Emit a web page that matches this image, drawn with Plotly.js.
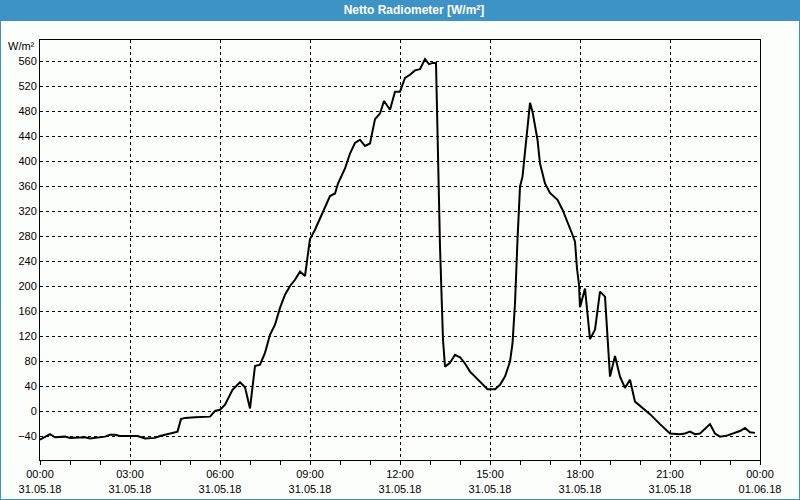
<!DOCTYPE html>
<html>
<head>
<meta charset="utf-8">
<script src="https://cdn.plot.ly/plotly-3.0.1.min.js"></script>
<style>
html,body{margin:0;padding:0;background:#fcfefc;}
#chart{width:800px;height:500px;}
</style>
</head>
<body>
<div id="chart"></div>
<script>
const chartTitle = "Netto Radiometer [W/m²]";
const unitLabel = "W/m²";
const day = "2018-05-31";
const times = [
"00:00","00:10","00:20","00:30","00:40","00:50","01:00","01:20","01:30","01:40",
"01:50","02:00","02:10","02:20","02:30","02:40","02:50","03:00","03:15","03:30",
"03:40","03:50","04:00","04:10","04:25","04:35","04:42","04:50","05:10","05:20",
"05:40","05:50","06:00","06:10","06:25","06:40","06:50","07:00","07:10","07:20",
"07:30","07:40","07:50","08:00","08:10","08:20","08:30","08:40","08:50","08:56",
"09:00","09:10","09:20","09:30","09:40","09:50","09:56","10:10","10:20","10:30",
"10:40","10:50","11:00","11:10","11:20","11:28","11:40","11:50","12:00","12:10",
"12:20","12:30","12:40","12:50","12:58","13:06","13:12","13:20","13:26","13:30",
"13:40","13:50","14:00","14:10","14:20","14:30","14:40","14:50","14:55","15:10",
"15:20","15:30","15:40","15:45","15:50","15:55","16:00","16:05","16:12","16:20",
"16:25","16:35","16:40","16:50","17:00","17:15","17:25","17:35","17:45","17:50",
"17:54","17:58","18:00","18:10","18:20","18:30","18:40","18:50","19:00","19:10",
"19:20","19:30","19:40","19:50","20:00","20:20","20:40","21:00","21:20","21:30",
"21:40","21:50","22:00","22:20","22:30","22:40","22:55","23:05","23:20","23:30",
"23:40","23:50"
];
const values = [
-46,-41,-37,-42,-42,-41,-43,-42,-42,-44,
-43,-41,-41,-38,-38,-40,-40,-39,-40,-44,
-43,-43,-40,-38,-36,-33,-13,-11,-10,-10,
-9,0,2,10,34,46,38,4,72,74,
93,122,138,165,186,200,210,223,216,252,
275,290,308,324,344,348,364,388,412,429,
434,424,428,467,476,496,482,511,511,533,
538,545,547,563,555,557,557,263,114,71,
77,90,86,76,63,55,47,39,35,35,
42,55,79,108,172,274,359,375,434,493,
479,434,396,364,349,338,322,303,282,271,
228,202,166,196,115,130,191,183,55,88,
55,37,50,15,8,-5,-21,-36,-37,-36,
-33,-37,-36,-21,-36,-41,-39,-36,-32,-27,
-34,-35
];
const yTickVals = [-40,0,40,80,120,160,200,240,280,320,360,400,440,480,520,560];

const xs = times.map(t => day + " " + t);
const font = "Liberation Sans, Arial, sans-serif";

// pixel -> paper helpers for decorations outside the plot
const L = 40, R = 40, T = 40, B = 40, W = 800, H = 500;
const pw = W - L - R, ph = H - T - B;
const px = x => (x - L) / pw;
const py = y => (H - B - y) / ph;

const trace = {
  x: xs, y: values, type: "scatter", mode: "lines",
  line: {color: "#000000", width: 2},
  hoverinfo: "skip"
};

const layout = {
  width: W, height: H,
  margin: {l: L, r: R, t: T, b: B},
  paper_bgcolor: "#fcfefc",
  plot_bgcolor: "#fcfefc",
  showlegend: false,
  font: {family: font, size: 11, color: "#000"},
  title: {
    text: chartTitle,
    font: {family: font, size: 12, color: "#ffffff", weight: "bold"},
    x: 414 / W, xref: "container", xanchor: "center",
    y: 1 - 10 / H, yref: "container", yanchor: "middle"
  },
  xaxis: {
    type: "date",
    range: ["2018-05-31 00:00", "2018-06-01 00:00"],
    tick0: "2018-05-31 00:00",
    dtick: 3 * 3600000,
    tickformat: "%H:%M<br>%d.%m.%y",
    ticks: "outside", ticklen: 4, tickcolor: "#000", tickwidth: 1,
    minor: {dtick: 3600000, ticks: "outside", ticklen: 4, tickcolor: "#000", showgrid: false},
    showgrid: true, gridcolor: "#000", griddash: "3px,3px", gridwidth: 1,
    showline: true, linecolor: "#000", linewidth: 1, mirror: true,
    zeroline: false,
    tickfont: {family: font, size: 11, color: "#000"}
  },
  yaxis: {
    range: [-78.4, 593.6],
    tickvals: yTickVals,
    ticks: "", 
    showgrid: true, gridcolor: "#000", griddash: "3px,3px", gridwidth: 1,
    showline: true, linecolor: "#000", linewidth: 1, mirror: true,
    zeroline: false,
    tickfont: {family: font, size: 11, color: "#000"}
  },
  shapes: [
    {type: "rect", xref: "paper", yref: "paper", layer: "below",
     x0: px(0), x1: px(800), y0: py(21), y1: py(0),
     fillcolor: "#3d93c5", line: {width: 0}},
    {type: "line", xref: "paper", yref: "paper", x0: px(0.5), x1: px(0.5), y0: py(21), y1: py(499.5), line: {color: "#3d93c5", width: 1}},
    {type: "line", xref: "paper", yref: "paper", x0: px(799.5), x1: px(799.5), y0: py(21), y1: py(499.5), line: {color: "#3d93c5", width: 1}},
    {type: "line", xref: "paper", yref: "paper", x0: px(0), x1: px(800), y0: py(499.5), y1: py(499.5), line: {color: "#3d93c5", width: 1}}
  ],
  annotations: [
    {text: unitLabel, xref: "paper", yref: "paper", x: px(37), y: py(46),
     xanchor: "right", yanchor: "middle", showarrow: false,
     font: {family: font, size: 11, color: "#000"}}
  ]
};

Plotly.newPlot("chart", [trace], layout, {staticPlot: true, displayModeBar: false});
</script>
</body>
</html>
